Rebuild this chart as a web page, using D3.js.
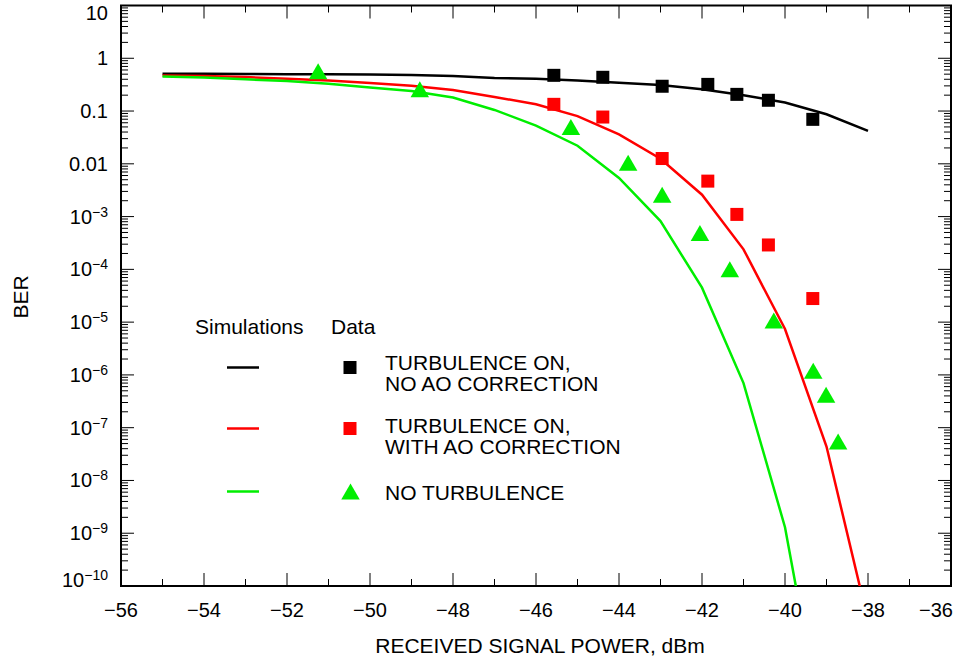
<!DOCTYPE html>
<html>
<head>
<meta charset="utf-8">
<script src="https://cdn.jsdelivr.net/npm/d3@7"></script>
<style>
  body { margin: 0; background: #fff; }
  text { font-family: "Liberation Sans", Arial, Helvetica, sans-serif; fill: #000; }
</style>
</head>
<body>
<svg id="chart" width="956" height="659"></svg>
<script>
// Simulated BER curves, sampled every 1 dBm
const simPower     = [-55,-54,-53,-52,-51,-50,-49,-48,-47,-46,-45,-44,-43,-42,-41,-40,-39,-38];
const simNoAO      = [0.51,0.51,0.505,0.50,0.50,0.49,0.48,0.46,0.425,0.41,0.38,0.345,0.31,0.26,0.20,0.145,0.087,0.042];
const simWithAO    = [0.47,0.46,0.44,0.41,0.38,0.34,0.30,0.25,0.185,0.134,0.080,0.036,0.0125,2.6e-3,2.4e-4,7.4e-6,4.4e-8,2.2e-11];
const simNoTurbPow = [-55,-54,-53,-52,-51,-50,-49,-48,-47,-46,-45,-44,-43,-42,-41,-40,-39];
const simNoTurb    = [0.45,0.43,0.40,0.37,0.33,0.28,0.24,0.18,0.105,0.053,0.022,5.4e-3,8.2e-4,4.5e-5,7e-7,1.3e-9,7e-14];

// Measured BER
const dataTurbPow   = [-45.57,-44.39,-42.96,-41.86,-41.16,-40.40,-39.33];
const dataNoAO      = [0.475,0.436,0.295,0.32,0.207,0.16,0.0696];
const dataWithAO    = [0.134,0.077,0.0126,4.7e-3,1.1e-3,2.9e-4,2.8e-5];
const dataNoTurbPow = [-51.25,-48.8,-45.16,-43.78,-42.96,-42.05,-41.33,-40.27,-39.32,-39.01,-38.72];
const dataNoTurb    = [0.57,0.26,0.05,0.0105,2.6e-3,4.9e-4,1e-4,1.07e-5,1.2e-6,4.2e-7,5.5e-8];

// Axis ticks
const xMajor = [-56,-54,-52,-50,-48,-46,-44,-42,-40,-38,-36];
const xMinor = [-55,-53,-51,-49,-47,-45,-43,-41,-39,-37];
const yExp   = [1,0,-1,-2,-3,-4,-5,-6,-7,-8,-9,-10];

const seriesColors = { noAO: "#000000", withAO: "#ff0000", noTurb: "#00ee00" };

const svg = d3.select("#chart");
const pLeft = 121, pRight = 951, pTop = 5.5, pBottom = 586;

const x = d3.scaleLinear().domain([-56, -36]).range([pLeft, pRight]);
const y = d3.scaleLog().domain([1e-10, 10]).range([pBottom, pTop]);

svg.append("defs").append("clipPath").attr("id", "plotClip")
  .append("rect").attr("x", pLeft).attr("y", pTop).attr("width", pRight - pLeft).attr("height", pBottom - pTop);

// Ticks, all pointing inward
const tickG = svg.append("g").attr("stroke", "#000").attr("stroke-width", 1);
xMajor.forEach(v => {
  tickG.append("line").attr("x1", x(v)).attr("x2", x(v)).attr("y1", pBottom).attr("y2", pBottom - 13);
  tickG.append("line").attr("x1", x(v)).attr("x2", x(v)).attr("y1", pTop).attr("y2", pTop + 13);
});
xMinor.forEach(v => {
  tickG.append("line").attr("x1", x(v)).attr("x2", x(v)).attr("y1", pBottom).attr("y2", pBottom - 7);
  tickG.append("line").attr("x1", x(v)).attr("x2", x(v)).attr("y1", pTop).attr("y2", pTop + 7);
});
yExp.forEach(e => {
  const v = Math.pow(10, e);
  tickG.append("line").attr("x1", pLeft).attr("x2", pLeft + 13).attr("y1", y(v)).attr("y2", y(v));
  tickG.append("line").attr("x1", pRight).attr("x2", pRight - 13).attr("y1", y(v)).attr("y2", y(v));
  if (e > -10) {
    for (let m = 2; m <= 9; m++) {
      const mv = m * Math.pow(10, e - 1);
      tickG.append("line").attr("x1", pLeft).attr("x2", pLeft + 7).attr("y1", y(mv)).attr("y2", y(mv));
      tickG.append("line").attr("x1", pRight).attr("x2", pRight - 7).attr("y1", y(mv)).attr("y2", y(mv));
    }
  }
});

// Frame
svg.append("rect").attr("x", pLeft).attr("y", pTop).attr("width", pRight - pLeft).attr("height", pBottom - pTop)
  .attr("fill", "none").attr("stroke", "#000").attr("stroke-width", 2);

// X tick labels
svg.append("g").selectAll("text").data(xMajor).join("text")
  .attr("x", d => d === -36 ? pRight + 2 : x(d))
  .attr("y", 617)
  .attr("text-anchor", d => d === -36 ? "end" : "middle")
  .attr("font-size", 20)
  .text(d => "\u2212" + Math.abs(d));

// Y tick labels
const yPlain = { 1: "10", 0: "1", "-1": "0.1", "-2": "0.01" };
const yl = svg.append("g");
yExp.forEach(e => {
  let cy = y(Math.pow(10, e));
  if (e === 1) cy += 7;
  if (e === -10) cy -= 6;
  const t = yl.append("text").attr("x", 108).attr("y", cy + 7).attr("text-anchor", "end").attr("font-size", 20);
  if (e >= -2) {
    t.text(yPlain[e]);
  } else {
    t.append("tspan").text("10");
    t.append("tspan").attr("dy", -7).attr("font-size", 14).text("\u2212" + Math.abs(e));
  }
});

// Axis titles
svg.append("text").attr("x", 540).attr("y", 653).attr("text-anchor", "middle").attr("font-size", 21)
  .text("RECEIVED SIGNAL POWER, dBm");
svg.append("text").attr("transform", "translate(28,297) rotate(-90)").attr("text-anchor", "middle").attr("font-size", 21)
  .text("BER");

// Simulation curves
const line = d3.line().x(d => x(d[0])).y(d => y(d[1]));
const plot = svg.append("g").attr("clip-path", "url(#plotClip)");
[[simPower, simNoAO, seriesColors.noAO],
 [simPower, simWithAO, seriesColors.withAO],
 [simNoTurbPow, simNoTurb, seriesColors.noTurb]].forEach(([px, py, c]) => {
  plot.append("path").datum(px.map((p, i) => [p, py[i]]))
    .attr("d", line).attr("fill", "none").attr("stroke", c).attr("stroke-width", 2.5);
});

// Measured points
const sq = 13;
function squares(px, py, c) {
  plot.append("g").selectAll("rect").data(px.map((p, i) => [p, py[i]])).join("rect")
    .attr("x", d => x(d[0]) - sq / 2).attr("y", d => y(d[1]) - sq / 2)
    .attr("width", sq).attr("height", sq).attr("fill", c);
}
function triPath(cx, cy) {
  const w = 18.5, h = 16;
  return `M${cx},${cy - h / 2}L${cx + w / 2},${cy + h / 2}L${cx - w / 2},${cy + h / 2}Z`;
}
squares(dataTurbPow, dataNoAO, seriesColors.noAO);
squares(dataTurbPow, dataWithAO, seriesColors.withAO);
plot.append("g").selectAll("path").data(dataNoTurbPow.map((p, i) => [p, dataNoTurb[i]])).join("path")
  .attr("d", d => triPath(x(d[0]), y(d[1]))).attr("fill", seriesColors.noTurb);

// Legend
const lg = svg.append("g");
lg.append("text").attr("x", 195).attr("y", 334).attr("font-size", 21).text("Simulations");
lg.append("text").attr("x", 331).attr("y", 334).attr("font-size", 21).text("Data");
const legendRows = [
  { c: seriesColors.noAO, y: 367.5, mark: "sq", textY: 369.5, lines: ["TURBULENCE ON,", "NO AO CORRECTION"] },
  { c: seriesColors.withAO, y: 428.5, mark: "sq", textY: 432.5, lines: ["TURBULENCE ON,", "WITH AO CORRECTION"] },
  { c: seriesColors.noTurb, y: 491.5, mark: "tri", textY: 500, lines: ["NO TURBULENCE"] }
];
legendRows.forEach(r => {
  lg.append("line").attr("x1", 227).attr("x2", 259).attr("y1", r.y).attr("y2", r.y)
    .attr("stroke", r.c).attr("stroke-width", 2.5);
  if (r.mark === "sq") {
    lg.append("rect").attr("x", 350 - sq / 2).attr("y", r.y - sq / 2).attr("width", sq).attr("height", sq).attr("fill", r.c);
  } else {
    lg.append("path").attr("d", triPath(350.5, r.y)).attr("fill", r.c);
  }
  const t = lg.append("text").attr("x", 385).attr("y", r.textY).attr("font-size", 21);
  r.lines.forEach((s, i) => {
    t.append("tspan").attr("x", 385).attr("dy", i === 0 ? 0 : 21.6).text(s);
  });
});
</script>
</body>
</html>
